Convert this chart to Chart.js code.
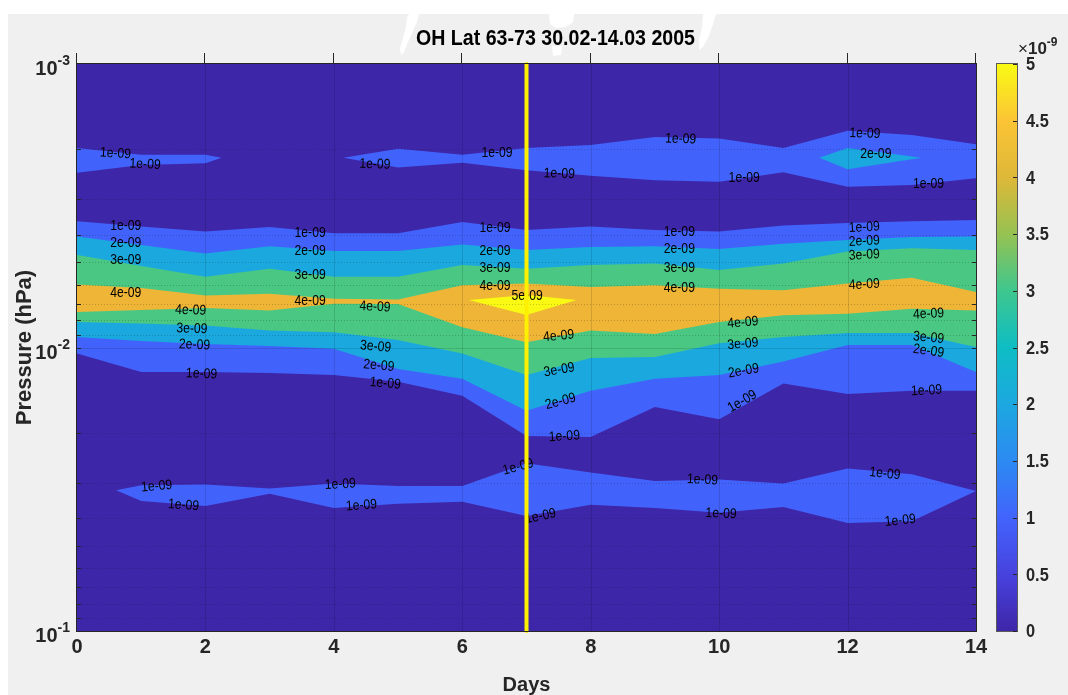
<!DOCTYPE html>
<html><head><meta charset="utf-8">
<script src="https://cdn.jsdelivr.net/npm/chart.js@4.4.1/dist/chart.umd.min.js"></script>
<style>html,body{margin:0;padding:0;background:#fff;overflow:hidden}#wrap{width:1068px;height:695px;position:relative}</style>
</head><body><div id="wrap"><canvas id="c" width="1068" height="695"></canvas></div>
<script>
// ---------- data (pressures in hPa, days 0..14) ----------
const days = [0,1,2,3,4,5,6,7,8,9,10,11,12,13,14];
const fullDays = [0,14];
const fullTop = [1e-3,1e-3];
const fullBot = [1e-1,1e-1];
// upper 1e-9 band, left piece
const bandA1Days = [0,1,2,2.25];
const bandA1Top = [1.98e-3,2.09e-3,2.09e-3,2.14e-3];
const bandA1Bot = [2.42e-3,2.27e-3,2.24e-3,2.14e-3];
// upper 1e-9 band, right piece
const bandA2Days = [4.15,5,6,7,8,9,10,11,12,13,14];
const bandA2Top = [2.14e-3,1.99e-3,2.09e-3,1.98e-3,1.93e-3,1.81e-3,1.83e-3,1.98e-3,1.72e-3,1.78e-3,1.92e-3];
const bandA2Bot = [2.14e-3,2.32e-3,2.23e-3,2.37e-3,2.48e-3,2.57e-3,2.60e-3,2.41e-3,2.71e-3,2.67e-3,2.53e-3];
// 2e-9 island inside upper band
const islandA2Days = [11.56,12,13.15];
const islandA2Top = [2.14e-3,1.98e-3,2.14e-3];
const islandA2Bot = [2.14e-3,2.35e-3,2.14e-3];
// main band contour boundaries (per day)
const oneTop   = [3.59e-3,3.74e-3,3.90e-3,3.76e-3,3.95e-3,3.95e-3,3.61e-3,3.85e-3,3.74e-3,3.85e-3,3.90e-3,3.71e-3,3.64e-3,3.59e-3,3.55e-3];
const twoTop   = [4.06e-3,4.35e-3,4.66e-3,4.39e-3,4.57e-3,4.57e-3,4.33e-3,4.53e-3,4.42e-3,4.39e-3,4.49e-3,4.31e-3,4.18e-3,4.08e-3,4.06e-3];
const threeTop = [4.72e-3,5.16e-3,5.63e-3,5.27e-3,5.63e-3,5.63e-3,5.12e-3,5.27e-3,5.12e-3,5.05e-3,5.33e-3,5.05e-3,4.59e-3,4.47e-3,4.53e-3];
const fourTop  = [6.00e-3,6.17e-3,6.55e-3,6.46e-3,6.73e-3,6.77e-3,6.03e-3,5.95e-3,6.12e-3,6.03e-3,6.20e-3,6.28e-3,5.95e-3,5.68e-3,6.37e-3];
const fourBot  = [7.49e-3,7.37e-3,7.25e-3,7.40e-3,7.01e-3,7.02e-3,8.48e-3,9.59e-3,8.71e-3,8.96e-3,8.13e-3,7.70e-3,7.60e-3,7.30e-3,7.40e-3];
const threeBot = [8.13e-3,8.23e-3,8.36e-3,8.71e-3,8.83e-3,9.41e-3,10.5e-3,12.5e-3,10.9e-3,10.8e-3,9.67e-3,9.18e-3,8.89e-3,8.89e-3,9.96e-3];
const twoBot   = [9.18e-3,9.49e-3,9.72e-3,9.88e-3,10.1e-3,11.9e-3,12.9e-3,16.7e-3,14.2e-3,12.9e-3,12.5e-3,11.2e-3,9.80e-3,9.80e-3,12.2e-3];
const oneBot   = [10.5e-3,12.2e-3,12.2e-3,12.3e-3,12.5e-3,13.2e-3,14.8e-3,20.5e-3,20.7e-3,16.2e-3,17.9e-3,13.4e-3,14.6e-3,14.2e-3,14.2e-3];
// 5e-9 island
const island5Days = [6.1,7,7.78];
const island5Top = [6.80e-3,6.53e-3,6.80e-3];
const island5Bot = [6.80e-3,7.68e-3,6.80e-3];
// lower 1e-9 band
const bandCDays = [0.61,1,2,3,4,5,6,7,8,9,10,11,12,13,14];
const bandCTop = [31.9e-3,30.6e-3,30.4e-3,31.4e-3,30.2e-3,30.8e-3,30.8e-3,25.6e-3,27.6e-3,29.6e-3,29.2e-3,30.2e-3,26.7e-3,28.0e-3,32.1e-3];
const bandCBot = [31.9e-3,34.8e-3,36.2e-3,32.8e-3,36.8e-3,35.6e-3,35.0e-3,39.3e-3,35.9e-3,36.8e-3,38.3e-3,36.5e-3,41.6e-3,41.0e-3,32.1e-3];
// marker line
const markerDay = 7;
// contour labels
const labelDays  = [0.60,1.06,4.64,6.54,7.51,9.40,10.39,12.27,12.44,13.26,
  0.76,0.76,0.76,0.76, 1.77,1.79,1.83,1.94, 3.63,3.63,3.63,3.63, 4.64,4.65,4.70,4.80,
  6.51,6.51,6.51,6.51, 7.01, 7.50,7.51,7.53,7.59, 9.38,9.38,9.38,9.38, 10.37,10.37,10.38,10.36,
  12.26,12.26,12.26,12.26, 13.26,13.26,13.26,13.23,
  1.24,1.66,4.10,4.43,6.87,7.22,9.74,10.03,12.58,12.82];
const labelPress = [2.07e-3,2.26e-3,2.26e-3,2.07e-3,2.44e-3,1.84e-3,2.53e-3,1.76e-3,2.08e-3,2.66e-3,
  3.73e-3,4.28e-3,4.91e-3,6.42e-3, 7.40e-3,8.60e-3,9.80e-3,12.4e-3, 3.94e-3,4.56e-3,5.56e-3,6.87e-3, 7.19e-3,9.94e-3,11.6e-3,13.4e-3,
  3.80e-3,4.56e-3,5.27e-3,6.08e-3, 6.58e-3, 9.11e-3,12.0e-3,15.5e-3,20.6e-3, 3.92e-3,4.51e-3,5.24e-3,6.18e-3, 8.17e-3,9.72e-3,12.1e-3,15.5e-3,
  3.77e-3,4.22e-3,4.72e-3,6.00e-3, 7.62e-3,9.24e-3,10.3e-3,14.2e-3,
  30.9e-3,36.0e-3,30.4e-3,36.1e-3,26.4e-3,39.4e-3,29.3e-3,38.6e-3,27.9e-3,40.8e-3];
const labelText  = ['1e-09','1e-09','1e-09','1e-09','1e-09','1e-09','1e-09','1e-09','2e-09','1e-09',
  '1e-09','2e-09','3e-09','4e-09', '4e-09','3e-09','2e-09','1e-09', '1e-09','2e-09','3e-09','4e-09', '4e-09','3e-09','2e-09','1e-09',
  '1e-09','2e-09','3e-09','4e-09', '5e-09', '4e-09','3e-09','2e-09','1e-09', '1e-09','2e-09','3e-09','4e-09', '4e-09','3e-09','2e-09','1e-09',
  '1e-09','2e-09','3e-09','4e-09', '4e-09','3e-09','2e-09','1e-09',
  '1e-09','1e-09','1e-09','1e-09','1e-09','1e-09','1e-09','1e-09','1e-09','1e-09'];
const labelAngle = [3,3,2,0,2,2,0,2,0,0,
  0,0,0,0, 2,2,2,2, 0,0,0,0, 3,5,5,5,
  0,0,0,0, 0, -5,-10,-15,-3, 0,0,0,0, -5,-5,-10,-30,
  -3,-3,-3,-3, -3,5,8,-3,
  -5,4,-3,-4,-15,-12,3,2,6,-6];
// axis / colourbar ticks
const xTickDays = [0,2,4,6,8,10,12,14];
const yDecades = [1e-3,1e-2,1e-1];
const yDecadeExp = ['-3','-2','-1'];
const yMinor = [2e-3,3e-3,4e-3,5e-3,6e-3,7e-3,8e-3,9e-3,2e-2,3e-2,4e-2,5e-2,6e-2,7e-2,8e-2,9e-2];
const cbTicks = [0,0.5,1,1.5,2,2.5,3,3.5,4,4.5,5];
const cbLabels = ['0','0.5','1','1.5','2','2.5','3','3.5','4','4.5','5'];

// ---------- styling ----------
const COL = ['rgb(62,38,168)','rgb(66,99,251)','rgb(27,168,222)','rgb(74,200,131)','rgb(238,181,55)','rgb(249,249,20)'];
const FONT = '"Liberation Sans", Arial, Helvetica, sans-serif';
const AX = '#262626';

function pts(xs, ys){ return xs.map((x,i)=>({x:x, y:ys[i]})); }
function band(xs, top, bot, color, order){
  const base = {borderWidth:0, borderColor:'rgba(0,0,0,0)', pointRadius:0, pointHoverRadius:0, tension:0, order:order};
  return [
    Object.assign({data:pts(xs,top), fill:'+1', backgroundColor:color}, base),
    Object.assign({data:pts(xs,bot), fill:false, backgroundColor:color}, base)
  ];
}
const datasets = [].concat(
  band(fullDays, fullTop, fullBot, COL[0], 70),
  band(bandA1Days, bandA1Top, bandA1Bot, COL[1], 60),
  band(bandA2Days, bandA2Top, bandA2Bot, COL[1], 60),
  band(days, oneTop, oneBot, COL[1], 60),
  band(bandCDays, bandCTop, bandCBot, COL[1], 60),
  band(islandA2Days, islandA2Top, islandA2Bot, COL[2], 50),
  band(days, twoTop, twoBot, COL[2], 50),
  band(days, threeTop, threeBot, COL[3], 40),
  band(days, fourTop, fourBot, COL[4], 30),
  band(island5Days, island5Top, island5Bot, COL[5], 20)
);
const markerIndex = datasets.length;
datasets.push({data:[{x:markerDay,y:1e-3},{x:markerDay,y:1e-1}], borderColor:'#fff000', borderWidth:4,
  borderCapStyle:'round', pointRadius:0, fill:false, order:0, clip:false});

function squeezedText(ctx, txt, x, y, sx){
  ctx.save(); ctx.translate(x,y); ctx.scale(sx,1); ctx.fillText(txt,0,0); ctx.restore();
}

const deco = {
  id:'deco',
  beforeDraw(chart){
    const ctx = chart.ctx; ctx.save();
    ctx.fillStyle = '#ffffff'; ctx.fillRect(0,0,1068,695);
    ctx.fillStyle = '#f0f0f0'; ctx.fillRect(8,14,1060,681);
    ctx.fillStyle = '#ffffff';
    const blobs = [
      [[409,14],[419,14],[417,22],[413,31],[408,42],[404,52],[401,55],[400,48],[403,38],[406,27],[407,18]],
      [[549,14],[574,14],[573,22],[566,27],[556,28],[550,24]],
      [[552,46],[562,46],[561,55],[553,56]],
      [[703,14],[716,14],[713,24],[709,36],[703,47],[699,50],[699,40],[702,28]]
    ];
    for (const b of blobs){ ctx.beginPath(); ctx.moveTo(b[0][0],b[0][1]); for (const p of b.slice(1)) ctx.lineTo(p[0],p[1]); ctx.closePath(); ctx.fill(); }
    ctx.restore();
  },
  beforeDatasetDraw(chart, args){
    if (args.index !== markerIndex) return;
    const ctx = chart.ctx, a = chart.chartArea, xs = chart.scales.x, ys = chart.scales.y;
    ctx.save();
    // grid
    ctx.lineWidth = 1;
    ctx.strokeStyle = 'rgba(0,0,0,0.12)';
    for (const d of xTickDays.slice(1,-1)){ const x = Math.round(xs.getPixelForValue(d))+0.5; ctx.beginPath(); ctx.moveTo(x,a.top); ctx.lineTo(x,a.bottom); ctx.stroke(); }
    { const y = Math.round(ys.getPixelForValue(1e-2))+0.5; ctx.beginPath(); ctx.moveTo(a.left,y); ctx.lineTo(a.right,y); ctx.stroke(); }
    ctx.setLineDash([1,2]); ctx.strokeStyle = 'rgba(0,0,0,0.2)';
    for (const v of yMinor){ const y = Math.round(ys.getPixelForValue(v))+0.5; ctx.beginPath(); ctx.moveTo(a.left,y); ctx.lineTo(a.right,y); ctx.stroke(); }
    ctx.setLineDash([]);
    // contour labels
    ctx.font = '14px ' + FONT; ctx.fillStyle = '#000'; ctx.textAlign = 'center'; ctx.textBaseline = 'middle';
    for (let i=0;i<labelText.length;i++){
      const px = xs.getPixelForValue(labelDays[i]), py = ys.getPixelForValue(labelPress[i]);
      ctx.save(); ctx.translate(px,py); ctx.rotate(labelAngle[i]*Math.PI/180); ctx.scale(0.87,1); ctx.fillText(labelText[i],0,0); ctx.restore();
    }
    ctx.restore();
  },
  afterDraw(chart){
    const ctx = chart.ctx, a = chart.chartArea, xs = chart.scales.x, ys = chart.scales.y;
    ctx.save();
    // box
    ctx.strokeStyle = AX; ctx.lineWidth = 1;
    ctx.strokeRect(a.left-0.5, a.top-0.5, a.right-a.left+1, a.bottom-a.top+1);
    // top ticks (outward)
    for (const d of xTickDays){ const x = Math.round(xs.getPixelForValue(d))-0.5; ctx.beginPath(); ctx.moveTo(x,a.top-11); ctx.lineTo(x,a.top); ctx.stroke(); }
    // minor y ticks inside
    for (const v of yMinor.concat([1e-2])){ const y = Math.round(ys.getPixelForValue(v))+0.5; ctx.beginPath(); ctx.moveTo(a.left,y); ctx.lineTo(a.left+4,y); ctx.moveTo(a.right,y); ctx.lineTo(a.right-4,y); ctx.stroke(); }
    // y decade labels 10^n
    ctx.fillStyle = AX; ctx.textBaseline = 'alphabetic'; ctx.textAlign = 'left';
    for (let i=0;i<yDecades.length;i++){
      const y = ys.getPixelForValue(yDecades[i]);
      ctx.font = 'bold 14px ' + FONT; const sw = ctx.measureText(yDecadeExp[i]).width;
      ctx.font = 'bold 20px ' + FONT; const bw = ctx.measureText('10').width;
      const right = a.left - 7;
      ctx.fillText('10', right - sw - bw, y + 11);
      ctx.font = 'bold 14px ' + FONT; ctx.fillText(yDecadeExp[i], right - sw, y + 1);
    }
    // axis titles
    ctx.font = 'bold 20px ' + FONT; ctx.textAlign = 'center';
    ctx.fillText('Days', (a.left+a.right)/2, 691);
    ctx.font = 'bold 22px ' + FONT;
    ctx.save(); ctx.translate(31,(a.top+a.bottom)/2); ctx.rotate(-Math.PI/2); ctx.fillText('Pressure (hPa)',0,0); ctx.restore();
    // title
    ctx.font = 'bold 22px ' + FONT; ctx.fillStyle = '#000';
    const tt = 'OH Lat 63-73 30.02-14.03 2005';
    const tw0 = ctx.measureText(tt).width;
    squeezedText(ctx, tt, 555.5, 45, 279/tw0);
    // colourbar
    const cx0 = 997, cx1 = 1017, cy0 = a.top, cy1 = a.bottom;
    const g = ctx.createLinearGradient(0,cy1,0,cy0);
    const stops = [[0,'rgb(62,38,168)'],[0.1,'rgb(71,66,222)'],[0.2,'rgb(66,100,252)'],[0.3,'rgb(44,138,242)'],[0.4,'rgb(28,168,224)'],
      [0.5,'rgb(14,189,196)'],[0.6,'rgb(62,199,142)'],[0.7,'rgb(150,194,82)'],[0.8,'rgb(222,184,56)'],[0.9,'rgb(252,196,54)'],[1,'rgb(249,250,20)']];
    for (const s of stops) g.addColorStop(s[0], s[1]);
    ctx.fillStyle = g; ctx.fillRect(cx0, cy0, cx1-cx0, cy1-cy0);
    ctx.strokeStyle = '#5a5a5a'; ctx.strokeRect(cx0-0.5, cy0-0.5, cx1-cx0+1, cy1-cy0+1);
    ctx.strokeStyle = AX; ctx.fillStyle = AX; ctx.font = 'bold 19px ' + FONT; ctx.textAlign = 'left'; ctx.textBaseline = 'middle';
    for (let i=0;i<cbTicks.length;i++){
      const y = cy1 - cbTicks[i]/5*(cy1-cy0);
      const yy = Math.round(y)+0.5;
      ctx.beginPath(); ctx.moveTo(cx1-4,yy); ctx.lineTo(cx1,yy); ctx.stroke();
      squeezedText(ctx, cbLabels[i], 1026, y+1, 0.86);
    }
    ctx.textBaseline = 'alphabetic';
    ctx.font = '17px ' + FONT; ctx.fillText('\u00d7', 1018, 54);
    const xw = ctx.measureText('\u00d7').width;
    ctx.font = 'bold 17px ' + FONT; ctx.fillText('10', 1018 + xw, 54);
    const tw = ctx.measureText('10').width;
    ctx.font = 'bold 12px ' + FONT; ctx.fillText('-9', 1018 + xw + tw, 46);
    ctx.restore();
  }
};

new Chart(document.getElementById('c'), {
  type:'line',
  data:{datasets:datasets},
  options:{
    responsive:false, animation:false, devicePixelRatio:1,
    layout:{padding:{left:0, right:92, top:64, bottom:0}},
    plugins:{legend:{display:false}, tooltip:{enabled:false}, title:{display:false}},
    events:[],
    scales:{
      x:{type:'linear', min:0, max:14, position:'bottom',
        ticks:{stepSize:2, color:AX, font:{family:FONT, size:20, weight:'bold', lineHeight:1}, padding:-2, maxRotation:0, autoSkip:false},
        grid:{display:false}, border:{display:false},
        afterFit:s=>{ s.height = 64; }},
      y:{type:'logarithmic', min:1e-3, max:1e-1, reverse:true, position:'left',
        ticks:{display:false}, grid:{display:false}, border:{display:false},
        afterFit:s=>{ s.width = 77; }}
    }
  },
  plugins:[deco]
});
</script>
</body></html>
